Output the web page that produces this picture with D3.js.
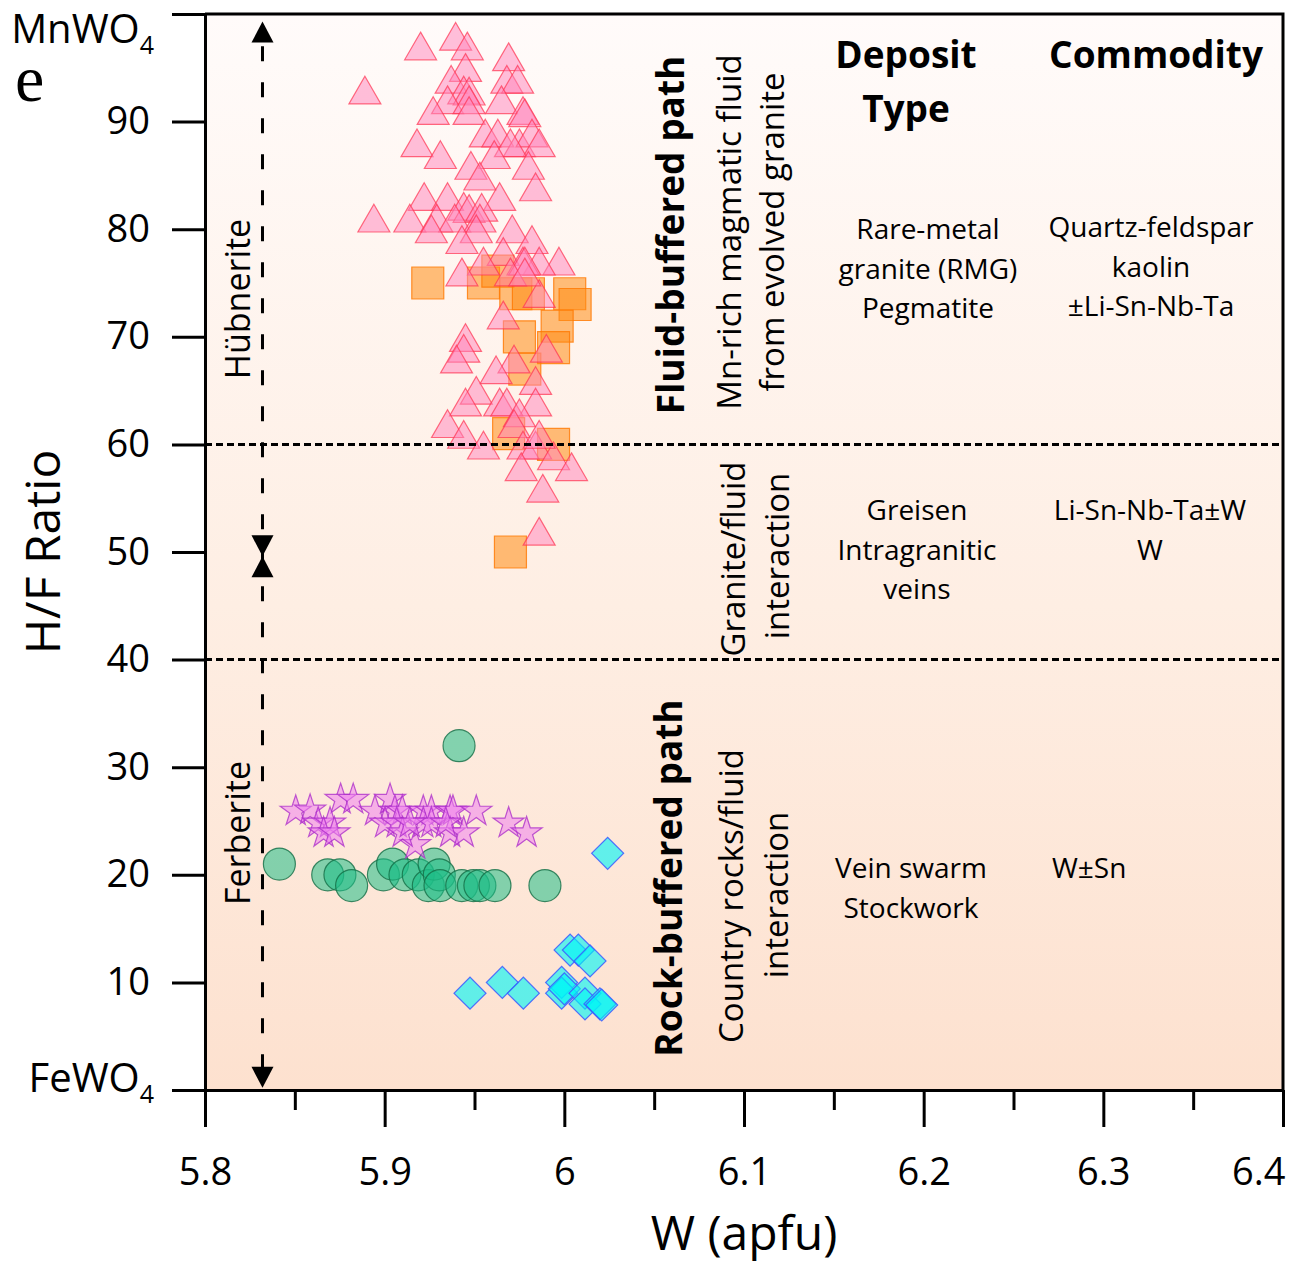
<!DOCTYPE html>
<html>
<head>
<meta charset="utf-8">
<script src="https://cdn.jsdelivr.net/npm/d3@7"></script>
<style>
  body { margin: 0; background: #fff; }
  text { font-family: "Open Sans", sans-serif; fill: #000; }
</style>
</head>
<body>
<div id="chart"></div>
<script>
const width = 1297, height = 1265;
const margin = { top: 14, right: 14, bottom: 175, left: 205 };

// W (apfu), H/F ratio
const triangles = [
  [5.9395, 97.5], [5.920, 96.6], [5.946, 96.6], [5.969, 95.6], [5.945, 94.6], [5.889, 92.5],
  [5.937, 93.5], [5.968, 93.5], [5.974, 93.5], [5.944, 92.5], [5.947, 92.4], [5.935, 91.6],
  [5.947, 91.6], [5.965, 91.6], [5.977, 90.6], [5.978, 90.4], [5.927, 90.6], [5.947, 90.6],
  [5.918, 87.6], [5.931, 86.5], [5.956, 88.5], [5.963, 88.5], [5.975, 87.6], [5.982, 88.5],
  [5.986, 87.6], [5.970, 87.6], [5.961, 86.5], [5.948, 85.5], [5.953, 84.5], [5.980, 85.5],
  [5.984, 83.5], [5.922, 82.6], [5.935, 82.6], [5.964, 82.6], [5.894, 80.6], [5.914, 80.6],
  [5.929, 80.6], [5.944, 81.7], [5.947, 81.5], [5.954, 81.6], [5.939, 80.6], [5.953, 80.6],
  [5.926, 79.6], [5.951, 79.6], [5.971, 79.6], [5.943, 78.6], [5.982, 78.6], [5.997, 76.6],
  [5.986, 76.6], [5.966, 77.5], [5.977, 76.6], [5.955, 76.6], [5.943, 75.6], [5.978, 76.6],
  [5.986, 73.6], [5.970, 75.6], [5.978, 75.6], [5.966, 71.6], [5.945, 69.5], [5.944, 68.5],
  [5.940, 67.5], [5.972, 67.5], [5.990, 68.5], [5.962, 66.5], [5.984, 65.5], [5.951, 64.6],
  [5.945, 63.5], [5.984, 63.5], [5.964, 63.5], [5.968, 63.5], [5.935, 61.5], [5.975, 62.5],
  [5.972, 61.5], [5.944, 60.5], [5.955, 59.5], [5.977, 59.5], [5.984, 59.5], [5.994, 58.5],
  [5.986, 60.5], [5.976, 57.5], [6.004, 57.5], [5.988, 55.5], [5.986, 51.5]
];
const squares = [
  [5.924, 75.0], [5.955, 75.0], [5.963, 76.1], [5.973, 74.0], [5.980, 74.0], [6.003, 74.0],
  [6.006, 73.0], [5.996, 71.0], [5.975, 70.0], [5.994, 69.0], [5.978, 67.0], [5.969, 61.0],
  [5.994, 60.0], [5.970, 50.0]
];
const stars = [
  [5.8505, 25.9], [5.8585, 26.0], [5.8755, 27.0], [5.8825, 27.0], [5.863, 24.8], [5.8696, 24.8],
  [5.866, 23.9], [5.872, 23.9], [5.8946, 25.9], [5.903, 27.0], [5.9057, 25.9], [5.9098, 25.9],
  [5.9002, 24.8], [5.9067, 24.8], [5.9215, 25.9], [5.926, 25.9], [5.9364, 25.9], [5.938, 25.9],
  [5.951, 25.9], [5.917, 22.8], [5.9215, 24.8], [5.926, 24.8], [5.9364, 23.9], [5.944, 23.9],
  [5.910, 23.9], [5.969, 24.8], [5.979, 23.9], [5.934, 24.8], [5.914, 24.8]
];
const circles = [
  [5.9414, 32.0], [5.8414, 21.0], [5.8683, 20.0], [5.8751, 20.0], [5.8816, 19.0], [5.8993, 20.0],
  [5.9044, 21.0], [5.9113, 20.0], [5.9187, 20.0], [5.9243, 19.0], [5.9275, 21.0], [5.9304, 20.0],
  [5.9308, 19.0], [5.9429, 19.0], [5.9494, 19.0], [5.953, 19.0], [5.9614, 19.0], [5.9892, 19.0]
];
const diamonds = [
  [6.0241, 22.0], [5.9475, 9.0], [5.9655, 10.0], [5.9772, 9.0], [6.0032, 13.0], [6.0078, 13.0],
  [6.0143, 12.0], [5.9985, 10.0], [5.9985, 9.0], [6.000, 9.4], [6.0115, 9.0], [6.0115, 8.0],
  [6.0198, 8.0], [6.0208, 7.9]
];

const xTicks = [5.8, 5.9, 6.0, 6.1, 6.2, 6.3, 6.4];
const xMinorTicks = [5.85, 5.95, 6.05, 6.15, 6.25, 6.35];
const yTicks = [0, 10, 20, 30, 40, 50, 60, 70, 80, 90, 100];
const boundaries = [60, 40];
const arrowX = 5.832;

const xScale = d3.scaleLinear().domain([5.8, 6.4]).range([margin.left, width - margin.right]);
const yScale = d3.scaleLinear().domain([0, 100]).range([height - margin.bottom, margin.top]);

const svg = d3.select('#chart').append('svg')
  .attr('width', width)
  .attr('height', height);

const grad = svg.append('defs').append('linearGradient')
  .attr('id', 'bg').attr('x1', 0).attr('y1', 0).attr('x2', 0).attr('y2', 1);
grad.append('stop').attr('offset', '0%').attr('stop-color', '#fffbfa');
grad.append('stop').attr('offset', '55%').attr('stop-color', '#feeee3');
grad.append('stop').attr('offset', '100%').attr('stop-color', '#fde1cf');

svg.append('rect')
  .attr('x', xScale(5.8)).attr('y', yScale(100))
  .attr('width', xScale(6.4) - xScale(5.8))
  .attr('height', yScale(0) - yScale(100))
  .attr('fill', 'url(#bg)');

// markers
function drawSymbols(data, type, size, fill, stroke, rotate) {
  svg.append('g').selectAll('path')
    .data(data)
    .enter().append('path')
    .attr('d', d3.symbol().type(type).size(size))
    .attr('transform', d => `translate(${xScale(d[0])},${yScale(d[1])})` + (rotate ? ` rotate(${rotate})` : ''))
    .attr('fill', fill)
    .attr('stroke', stroke)
    .attr('stroke-width', 1.2);
}

drawSymbols(squares, d3.symbolSquare, 1024, 'rgba(255,140,20,0.55)', 'rgba(255,120,0,0.8)');
drawSymbols(triangles, d3.symbolTriangle, 443, 'rgba(255,135,188,0.52)', 'rgba(255,50,80,0.7)');

svg.append('g').selectAll('circle')
  .data(circles)
  .enter().append('circle')
  .attr('cx', d => xScale(d[0]))
  .attr('cy', d => yScale(d[1]))
  .attr('r', 16)
  .attr('fill', 'rgba(30,190,135,0.55)')
  .attr('stroke', 'rgba(20,110,70,0.8)')
  .attr('stroke-width', 1.2);

drawSymbols(stars, d3.symbolStar, 300, 'rgba(238,130,238,0.55)', 'rgba(170,40,200,0.75)');
drawSymbols(diamonds, d3.symbolSquare, 512, 'rgba(0,245,245,0.62)', 'rgba(60,90,255,0.85)', 45);

// boundaries
svg.append('g').selectAll('line')
  .data(boundaries)
  .enter().append('line')
  .attr('x1', xScale(5.8)).attr('x2', xScale(6.4))
  .attr('y1', d => yScale(d)).attr('y2', d => yScale(d))
  .attr('stroke', '#000')
  .attr('stroke-width', 3)
  .attr('stroke-dasharray', '7,4');

// composition arrows
svg.append('line')
  .attr('x1', xScale(arrowX)).attr('x2', xScale(arrowX))
  .attr('y1', yScale(97)).attr('y2', yScale(2))
  .attr('stroke', '#000')
  .attr('stroke-width', 3)
  .attr('stroke-dasharray', '15,21');

function arrowHead(tipValue, dir) {
  const x = xScale(arrowX), y = yScale(tipValue);
  const h = 21 * dir;
  svg.append('path')
    .attr('d', `M${x},${y} L${x - 11},${y + h} L${x + 11},${y + h} Z`)
    .attr('fill', '#000');
}
arrowHead(99.3, 1);
arrowHead(49.6, -1);
arrowHead(49.6, 1);
arrowHead(0.2, -1);

// axes
svg.append('g')
  .attr('transform', `translate(0,${yScale(0)})`)
  .call(d3.axisBottom(xScale).tickValues(xTicks).tickSize(37).tickSizeOuter(0).tickPadding(31)
    .tickFormat(d => d3.format('')(+d.toFixed(1))))
  .selectAll('.tick text')
  .filter(d => d === 6.4)
  .attr('text-anchor', 'end')
  .attr('x', 2);
svg.append('g')
  .attr('transform', `translate(0,${yScale(0)})`)
  .call(d3.axisBottom(xScale).tickValues(xMinorTicks).tickSize(20).tickFormat(''))
  .select('.domain').remove();

svg.append('g')
  .attr('transform', `translate(${xScale(5.8)},0)`)
  .call(d3.axisLeft(yScale).tickValues(yTicks).tickSize(33).tickSizeOuter(0).tickPadding(22)
    .tickFormat(d => (d === 0 || d === 100) ? '' : d));

svg.selectAll('.domain, .tick line').attr('stroke', '#000').attr('stroke-width', 3);
svg.selectAll('.tick text').style('font-family', '"Open Sans", sans-serif').style('font-size', '38px').attr('fill', '#000');

// frame (top and right)
svg.append('path')
  .attr('d', `M${xScale(5.8)},${yScale(100)} H${xScale(6.4)} V${yScale(0)}`)
  .attr('fill', 'none')
  .attr('stroke', '#000')
  .attr('stroke-width', 3);

// end-member labels
function endMember(label, y) {
  const t = svg.append('text')
    .attr('x', 154).attr('y', y)
    .attr('text-anchor', 'end')
    .style('font-size', '40px');
  t.append('tspan').text(label);
  t.append('tspan').attr('dy', 11).style('font-size', '25px').text('4');
}
endMember('MnWO', yScale(100) + 29);
endMember('FeWO', yScale(0) + 2);

svg.append('text')
  .attr('x', 15).attr('y', 101)
  .style('font-family', '"Liberation Serif", "DejaVu Serif", serif')
  .style('font-size', '66px')
  .text('e');

// axis titles
svg.append('text')
  .attr('transform', `translate(60,${yScale(50)}) rotate(-90)`)
  .attr('text-anchor', 'middle')
  .style('font-size', '48px')
  .text('H/F Ratio');

svg.append('text')
  .attr('x', 744).attr('y', 1250)
  .attr('text-anchor', 'middle')
  .style('font-size', '48px')
  .text('W (apfu)');

// mineral labels
function vText(label, x, y, size, weight) {
  svg.append('text')
    .attr('transform', `translate(${x},${y}) rotate(-90)`)
    .attr('text-anchor', 'middle')
    .style('font-size', size + 'px')
    .style('font-weight', weight || 'normal')
    .text(label);
}
vText('Hübnerite', 250, 299, 34);
vText('Ferberite', 250, 833, 34);

vText('Fluid-buffered path', 684, 235, 37, 'bold');
vText('Mn-rich magmatic fluid', 741, 232, 33);
vText('from evolved granite', 784, 232, 33);
vText('Granite/fluid', 745, 559, 33);
vText('interaction', 789, 556, 33);
vText('Rock-buffered path', 682, 878, 37, 'bold');
vText('Country rocks/fluid', 743, 896, 33);
vText('interaction', 788, 895, 33);

function hText(lines, x, y, size, weight, anchor) {
  lines.forEach((l, i) => {
    svg.append('text')
      .attr('x', x).attr('y', y + i * (weight === 'bold' ? 54 : 39.5))
      .attr('text-anchor', anchor || 'middle')
      .style('font-size', size + 'px')
      .style('font-weight', weight || 'normal')
      .text(l);
  });
}
hText(['Deposit', 'Type'], 906, 68, 37, 'bold');
hText(['Commodity'], 1156, 68, 37, 'bold');
hText(['Rare-metal', 'granite (RMG)', 'Pegmatite'], 928, 239, 28);
hText(['Quartz-feldspar', 'kaolin', '±Li-Sn-Nb-Ta'], 1151, 237, 28);
hText(['Greisen', 'Intragranitic', 'veins'], 917, 520, 28);
hText(['Li-Sn-Nb-Ta±W', 'W'], 1150, 520, 28);
hText(['Vein swarm', 'Stockwork'], 911, 878, 28);
hText(['W±Sn'], 1052, 878, 28, 'normal', 'start');
</script>
</body>
</html>
